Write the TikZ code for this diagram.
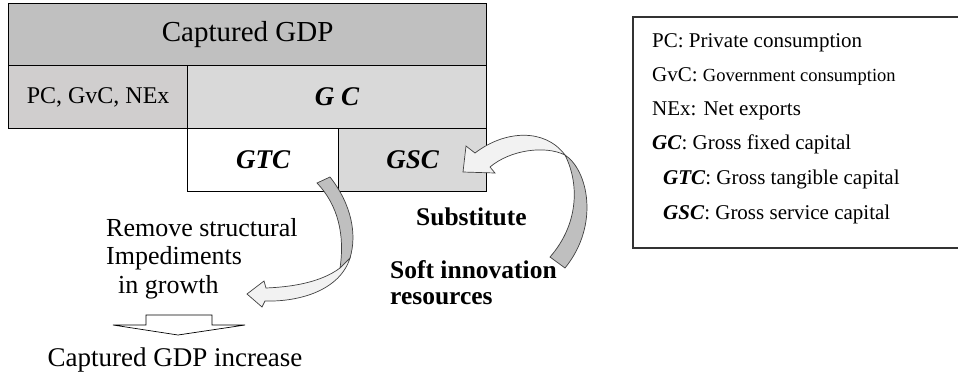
\documentclass[tikz,border=0pt]{standalone}
\usepackage{fontspec}
\setmainfont{Liberation Serif}
\definecolor{gdpgray}{RGB}{192,192,192}
\definecolor{pcgray}{RGB}{208,206,206}
\definecolor{gcgray}{RGB}{217,217,217}
\definecolor{backgray}{RGB}{191,191,191}
\definecolor{frontgray}{RGB}{242,242,242}
\tikzset{
    cell/.style={draw=black,line width=1.2pt,anchor=north west,inner sep=0pt},
    bi/.style={font=\fontsize{27}{30}\selectfont\bfseries\itshape},
    txt/.style={anchor=base west,inner sep=0pt,font=\fontsize{26}{30}\selectfont},
    btxt/.style={anchor=base west,inner sep=0pt,font=\fontsize{25.5}{30}\selectfont\bfseries},
    key/.style={anchor=base west,inner sep=0pt,font=\fontsize{21}{25}\selectfont},
    back/.style={draw=black!75,line width=0.7pt,fill=backgray},
    front/.style={draw=black!75,line width=0.7pt,fill=frontgray},
}
\begin{document}
\begin{tikzpicture}[x=1pt,y=-1pt]
\useasboundingbox (0,0) rectangle (958,376);
% stacked boxes
\node[cell,fill=gdpgray,minimum width=478pt,minimum height=62pt,
      font=\fontsize{29}{32}\selectfont] (gdp) at (8,3) {Captured GDP};
\node[cell,fill=pcgray,minimum width=179pt,minimum height=63pt,
      font=\fontsize{24}{28}\selectfont] (pc) at (8,65) {PC, GvC, NEx};
\node[cell,fill=gcgray,minimum width=299pt,minimum height=63pt,bi] (gc) at (187,65) {G C};
\node[cell,fill=white,minimum width=151pt,minimum height=63pt,bi] (gtc) at (187,128) {GTC};
\node[cell,fill=gcgray,minimum width=148pt,minimum height=63pt,bi] (gsc) at (338,128) {GSC};

% left side texts
\node[txt] (rm1) at (106,236) {Remove structural};
\node[txt] (rm2) at (106,264) {Impediments};
\node[txt] (rm3) at (118,293) {in growth};
\node[anchor=base,inner sep=0pt,font=\fontsize{27}{30}\selectfont] (rise) at (175,366) {Captured GDP increase};
\draw[line width=0.7pt,fill=white] (146,315) -- (212,315) -- (212,325) -- (245,325)
    -- (178,335) -- (113,325) -- (146,325) -- cycle;

% right side texts
\node[btxt] (sub) at (416,225) {Substitute};
\node[btxt] (soft1) at (390,278) {Soft innovation};
\node[btxt] (soft2) at (390,304) {resources};

% curved arrow GTC -> left
\draw[back] (317,183) -- (330,177) .. controls (352,205) and (357,235) .. (350,258)
    -- (340,268) .. controls (345,235) and (338,205) .. (317,183) -- cycle;
\draw[front] (340,268) .. controls (320,283) and (290,287) .. (266,288) -- (264,281)
    -- (247,294) -- (262,307) -- (265,301) .. controls (300,302) and (340,290) .. (350,258)
    -- cycle;

% curved arrow resources -> GSC
\draw[back] (565,155) .. controls (588,170) and (600,225) .. (565,268) -- (550,257)
    .. controls (578,225) and (580,185) .. (565,155) -- cycle;
\draw[front] (565,155) .. controls (545,128) and (505,130) .. (475,153) -- (466,146)
    -- (463,172) -- (495,173) -- (490,167) .. controls (510,150) and (545,145) .. (565,155)
    -- cycle;

% legend
\draw[line width=1.2pt,draw=black!80] (633,17) rectangle (964,248);
\node[key] (kpc) at (652,47) {PC: Private consumption};
\node[key] (kgvc) at (652,81) {GvC: {\fontsize{18.5}{22}\selectfont Government consumption}};
\node[key] (knex) at (652,115) {NEx: Net exports};
\node[key] (kgc) at (652,149) {\textbf{\textit{GC}}: Gross fixed capital};
\node[key] (kgtc) at (663,184) {\textbf{\textit{GTC}}: Gross tangible capital};
\node[key] (kgsc) at (663,219) {\textbf{\textit{GSC}}: Gross service capital};
\end{tikzpicture}
\end{document}
